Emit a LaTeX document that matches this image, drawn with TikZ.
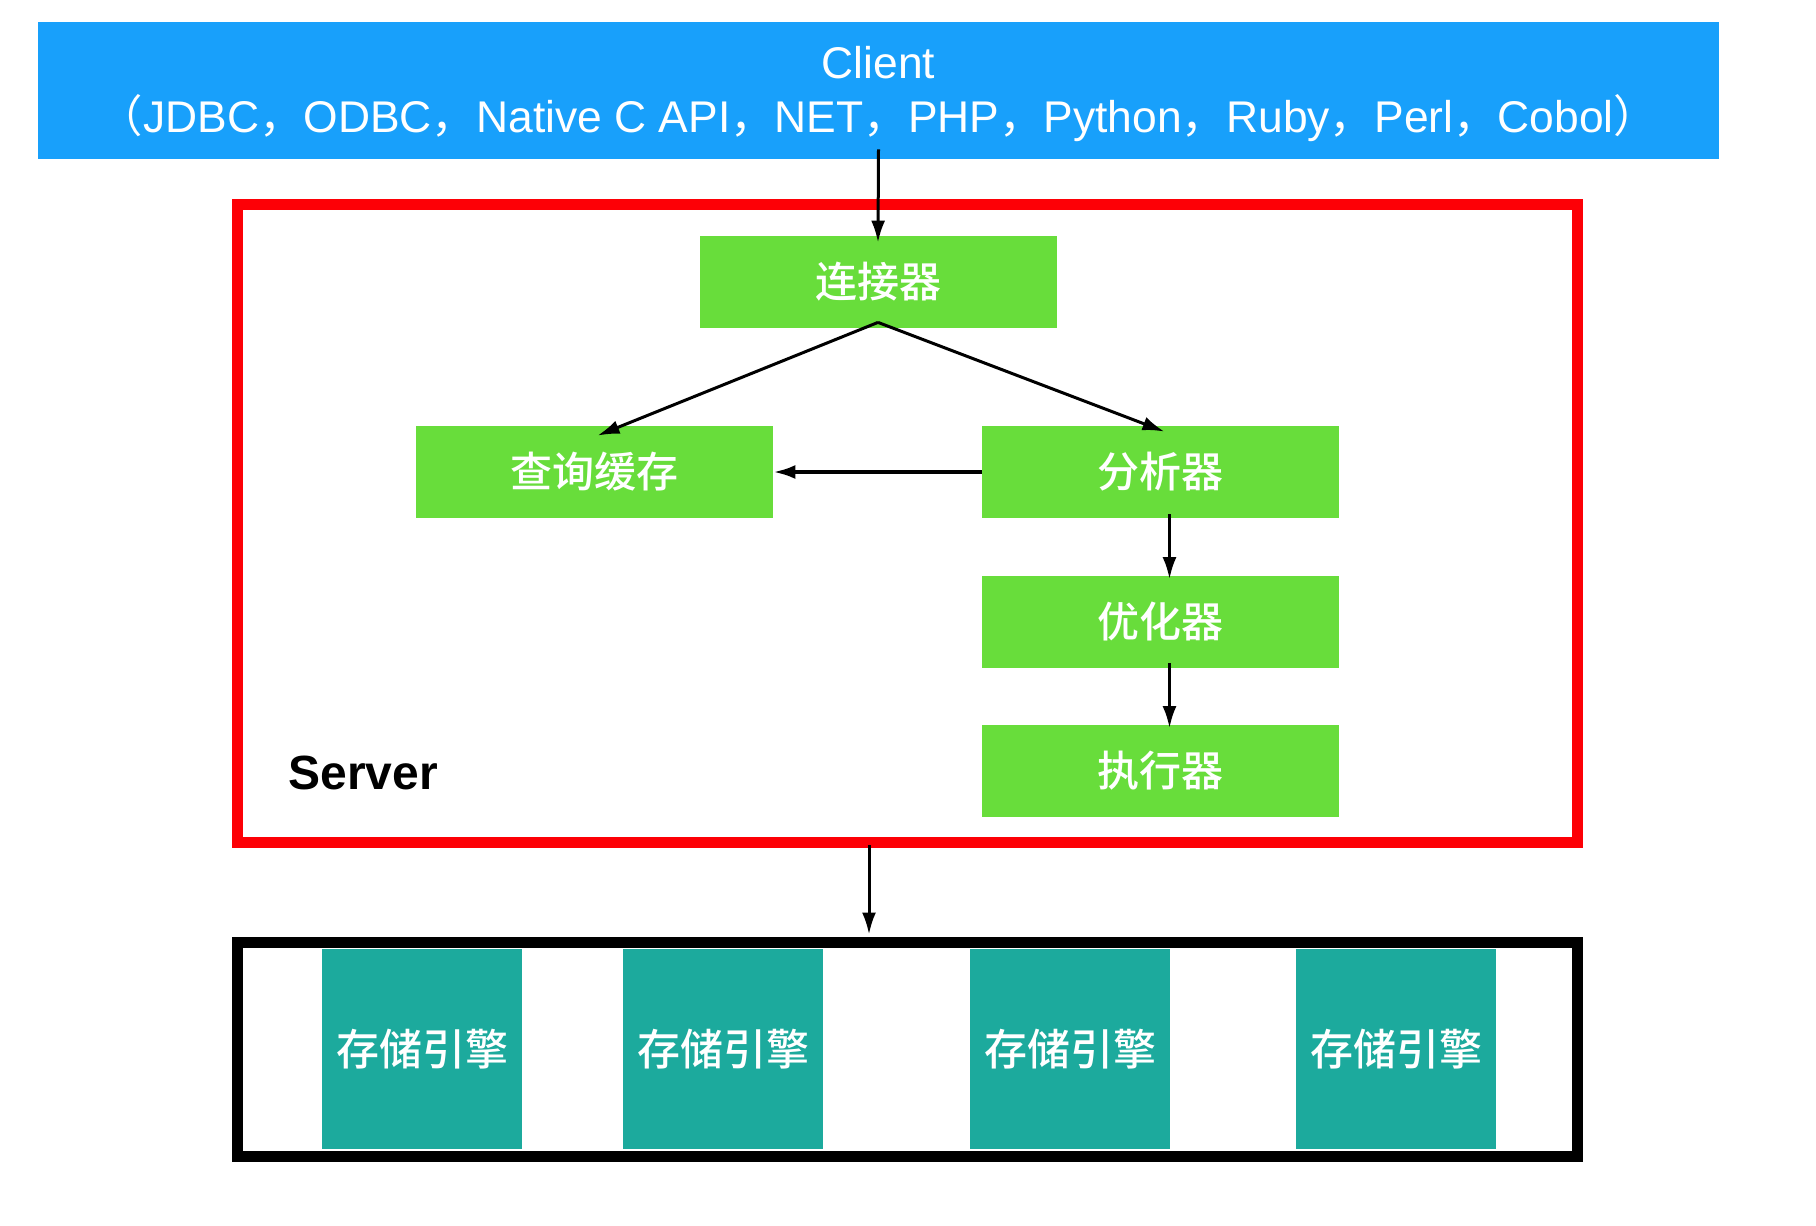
\documentclass[tikz,border=0pt]{standalone}
\usepackage{fontspec}
\setmainfont{Liberation Sans}
\newfontfamily\cjk{Noto Sans CJK SC Medium}
\newfontfamily\cjkpunct{Noto Sans CJK SC}
\usetikzlibrary{arrows.meta}
\definecolor{cblue}{RGB}{24,160,251}
\definecolor{cgreen}{RGB}{104,221,59}
\definecolor{cteal}{RGB}{28,170,157}
\definecolor{cred}{RGB}{253,0,6}
\begin{document}
\begin{tikzpicture}[x=0.5pt,y=-0.5pt,
  greenbox/.style={fill=cgreen, minimum width=178.5pt, minimum height=46pt, text=white, inner sep=0pt, font=\cjk\fontsize{21}{25}\selectfont},
  tealbox/.style={fill=cteal, minimum width=100pt, minimum height=100pt, text=white, inner sep=0pt, font=\cjk\fontsize{21.5}{25}\selectfont},
  arr/.style={-{Latex[length=11pt,width=7pt]}, line width=1.5pt, black}]
\useasboundingbox[fill=white] (0,0) rectangle (1816,1226);

\node[fill=cblue, minimum width=840.5pt, minimum height=68.5pt, inner sep=0pt, text=white, align=center,
      font=\fontsize{22.2}{27}\selectfont] (client) at (878.5,90.5) {};
\node[text=white, align=center, inner sep=0pt, font=\fontsize{22.2}{27}\selectfont] (clienttext) at (878.5,94.5)
  {Client\\{\cjkpunct （}JDBC{\cjkpunct ，}ODBC{\cjkpunct ，}Native C API{\cjkpunct ，}NET{\cjkpunct ，}PHP{\cjkpunct ，}Python{\cjkpunct ，}Ruby{\cjkpunct ，}Perl{\cjkpunct ，}Cobol{\cjkpunct ）}};

\node[draw=cred, line width=5.5pt, minimum width=670pt, minimum height=319pt, inner sep=0pt] (server) at (907,523.5) {};
\node[anchor=base west, font=\bfseries\fontsize{24}{28}\selectfont, inner sep=0pt] (serverlabel) at (288,789) {Server};

\node[greenbox] (conn) at (878,282) {连接器};
\node[greenbox] (cache) at (594.5,472) {查询缓存};
\node[greenbox] (parser) at (1160.5,472) {分析器};
\node[greenbox] (opt) at (1160.5,621.5) {优化器};
\node[greenbox] (exec) at (1160.5,770.5) {执行器};

\node[draw=black, line width=5.5pt, minimum width=670pt, minimum height=107pt, inner sep=0pt] (engines) at (907,1049) {};
\node[tealbox] (e1) at (422,1049) {存储引擎};
\node[tealbox] (e2) at (723,1049) {存储引擎};
\node[tealbox] (e3) at (1070,1049) {存储引擎};
\node[tealbox] (e4) at (1396,1049) {存储引擎};

\draw[arr] ([yshift=5pt]client.south) -- ([yshift=-3.5pt]conn.north);
\draw[arr] ([yshift=3pt]conn.south) -- ([xshift=1.5pt,yshift=-5pt]cache.north);
\draw[arr] ([yshift=3pt]conn.south) -- ([xshift=2pt,yshift=-3pt]parser.north);
\draw[arr, line width=1.8pt] (parser.west) -- (cache.east);
\draw[arr] ([xshift=4.5pt,yshift=2pt]parser.south) -- ([xshift=4.5pt,yshift=-2pt]opt.north);
\draw[arr] ([xshift=4.5pt,yshift=2.5pt]opt.south) -- ([xshift=4.5pt,yshift=-2pt]exec.north);
\draw[arr] ([xshift=-19pt,yshift=1.5pt]server.south) -- ([xshift=-19pt,yshift=1pt]engines.north);
\end{tikzpicture}
\end{document}
